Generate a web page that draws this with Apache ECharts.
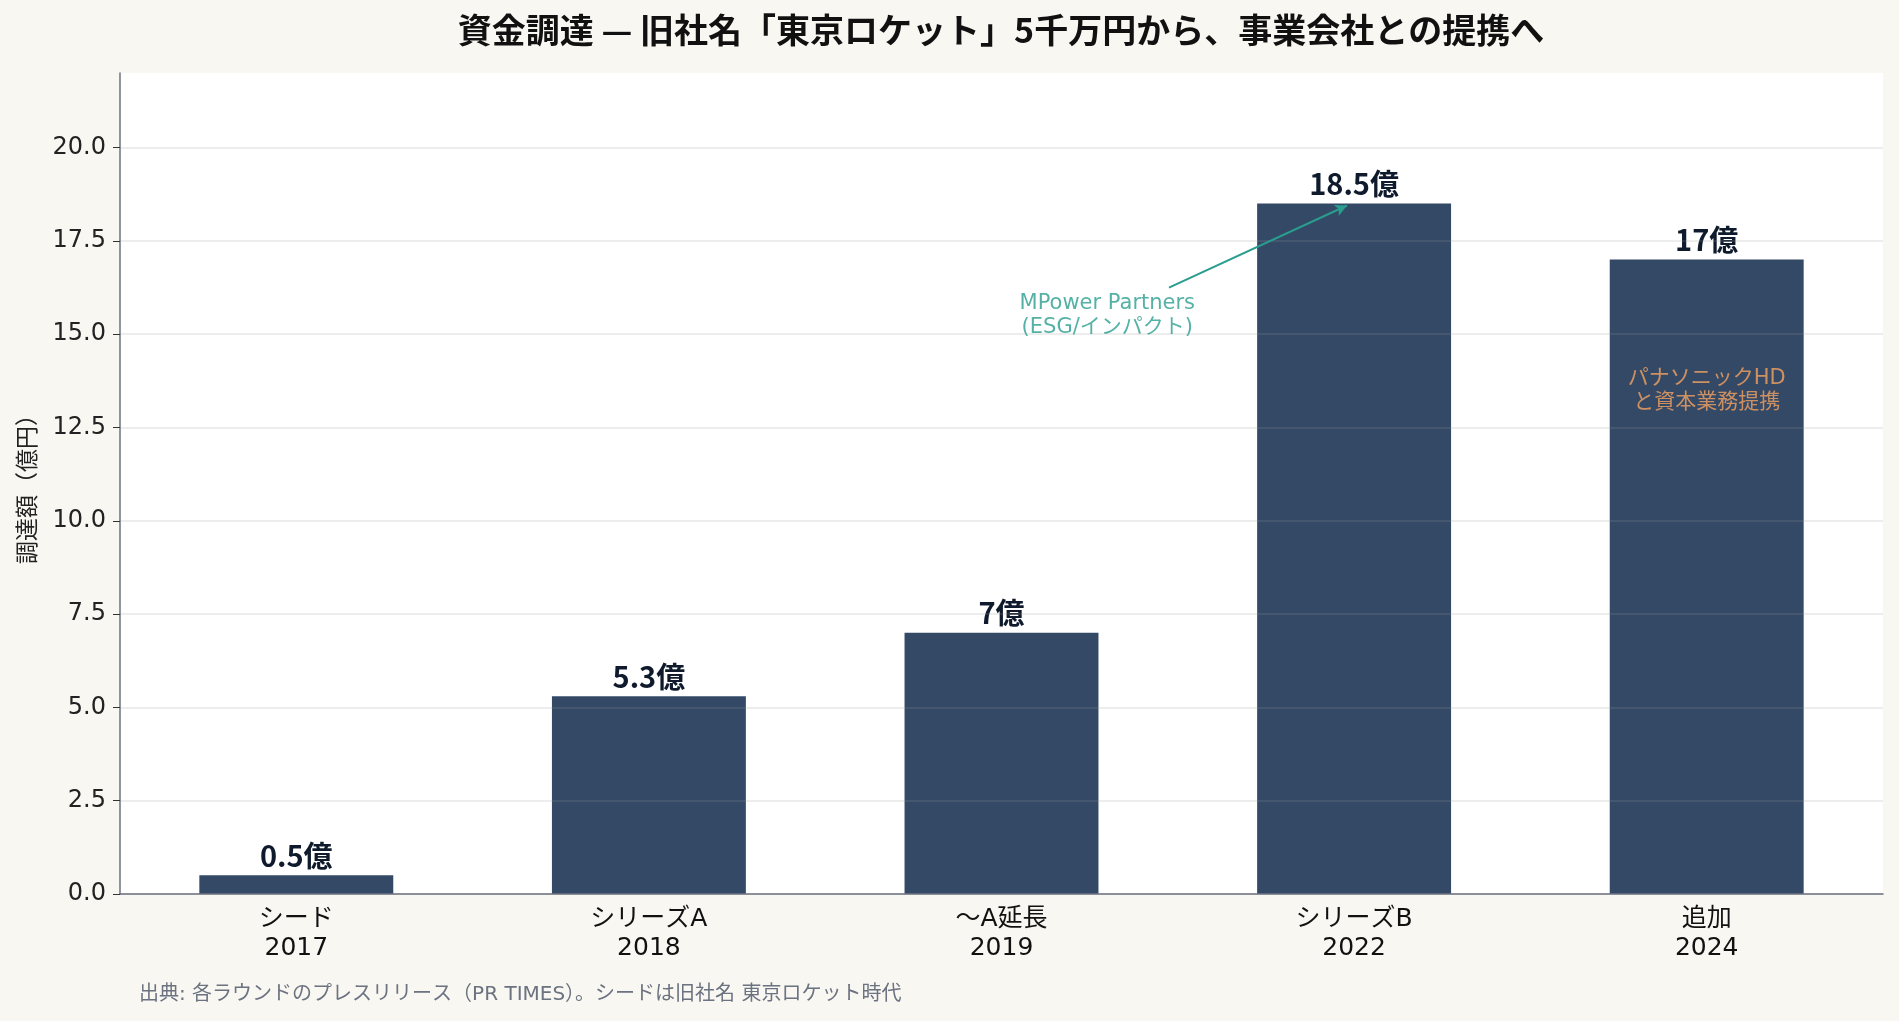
<!DOCTYPE html>
<html>
<head>
<meta charset="utf-8">
<script src="https://cdn.jsdelivr.net/npm/echarts@6/dist/echarts.min.js"></script>
<style>
  html, body { margin: 0; padding: 0; background: #f9f7f1; }
  #chart { width: 1899px; height: 1021px; }
</style>
</head>
<body>
<div id="chart"></div>
<script>
// 調達ラウンド
const rounds = ['シード', 'シリーズA', '〜A延長', 'シリーズB', '追加']
const years = ['2017', '2018', '2019', '2022', '2024']
const amounts = [0.5, 5.3, 7, 18.5, 17]
const yTicks = [0, 2.5, 5, 7.5, 10, 12.5, 15, 17.5, 20]

// 注記 (データ座標)
const noteTexts = ['MPower Partners\n(ESG/インパクト)', 'パナソニックHD\nと資本業務提携']
const notePoints = [[2.3, 15.5], [4, 13.5]]
const arrowLine = [[2.475, 16.25], [2.98, 18.45]]

const CJK = '"Noto Sans CJK JP", "Noto Sans", sans-serif'
const NUM = '"DejaVu Sans", "Noto Sans CJK JP", sans-serif'
const noteColors = ['#2a9d8f', '#f4a261']

const chart = echarts.init(document.getElementById('chart'))

chart.setOption({
  backgroundColor: '#f9f7f1',
  animation: false,
  grid: {
    left: 120,
    right: 16,
    top: 73,
    bottom: 127,
    show: true,
    backgroundColor: '#ffffff',
    borderWidth: 0,
  },
  graphic: [
    {
      type: 'text',
      x: 1001,
      y: 30,
      style: {
        text: '資金調達 — 旧社名「東京ロケット」5千万円から、事業会社との提携へ',
        fontFamily: CJK,
        fontSize: 34,
        fontWeight: 'bold',
        fill: '#111111',
        textAlign: 'center',
        textVerticalAlign: 'middle',
      },
    },
    {
      type: 'text',
      x: 139,
      y: 995,
      style: {
        text: '出典: 各ラウンドのプレスリリース（PR TIMES）。シードは旧社名 東京ロケット時代',
        fontFamily: NUM,
        fontSize: 20,
        fill: '#6b7280',
        textVerticalAlign: 'middle',
      },
    },
  ],
  xAxis: [
    {
      type: 'category',
      data: rounds,
      axisLine: { lineStyle: { color: '#6b7280', width: 1.5 } },
      axisTick: { alignWithLabel: true, length: 7, lineStyle: { color: '#333' } },
      axisLabel: {
        margin: 11,
        fontFamily: NUM,
        fontSize: 25,
        lineHeight: 29,
        color: '#111',
        formatter: (v, i) => v + '\n' + years[i],
      },
      z: 3,
    },
    {
      type: 'value',
      min: -0.5,
      max: 4.5,
      show: false,
    },
  ],
  yAxis: {
    type: 'value',
    min: 0,
    max: 22,
    interval: 2.5,
    name: '調達額（億円）',
    nameLocation: 'middle',
    nameGap: 82,
    nameTextStyle: { fontFamily: CJK, fontSize: 23, color: '#222' },
    axisLine: { show: true, onZero: false, lineStyle: { color: '#6b7280', width: 1.5 } },
    axisTick: { show: true, length: 7, customValues: yTicks, lineStyle: { color: '#333' } },
    axisLabel: {
      margin: 14,
      fontFamily: NUM,
      fontSize: 24,
      color: '#222',
      customValues: yTicks,
      formatter: v => v.toFixed(1),
    },
    splitLine: { lineStyle: { color: 'rgba(150,150,150,0.24)', width: 1.5 } },
    z: 3,
  },
  series: [
    {
      type: 'bar',
      data: amounts,
      barWidth: '55%',
      itemStyle: { color: '#334966' },
      label: {
        show: true,
        position: 'top',
        distance: 5,
        fontFamily: CJK,
        fontSize: 29,
        fontWeight: 'bold',
        color: '#0f1b2d',
        formatter: p => p.value + '億',
      },
      z: 2,
    },
    {
      type: 'scatter',
      xAxisIndex: 1,
      data: notePoints.map((p, i) => ({
        value: p,
        label: { color: noteColors[i] },
      })),
      symbolSize: 0,
      silent: true,
      label: {
        show: true,
        position: 'inside',
        fontFamily: NUM,
        fontSize: 21,
        lineHeight: 24,
        align: 'center',
        formatter: p => noteTexts[p.dataIndex],
      },
      markLine: {
        silent: true,
        symbol: ['none', 'arrow'],
        symbolSize: [9, 12],
        lineStyle: { color: '#2a9d8f', width: 2, type: 'solid' },
        label: { show: false },
        data: [[{ coord: arrowLine[0] }, { coord: arrowLine[1] }]],
      },
      z: 5,
    },
  ],
})
</script>
</body>
</html>
